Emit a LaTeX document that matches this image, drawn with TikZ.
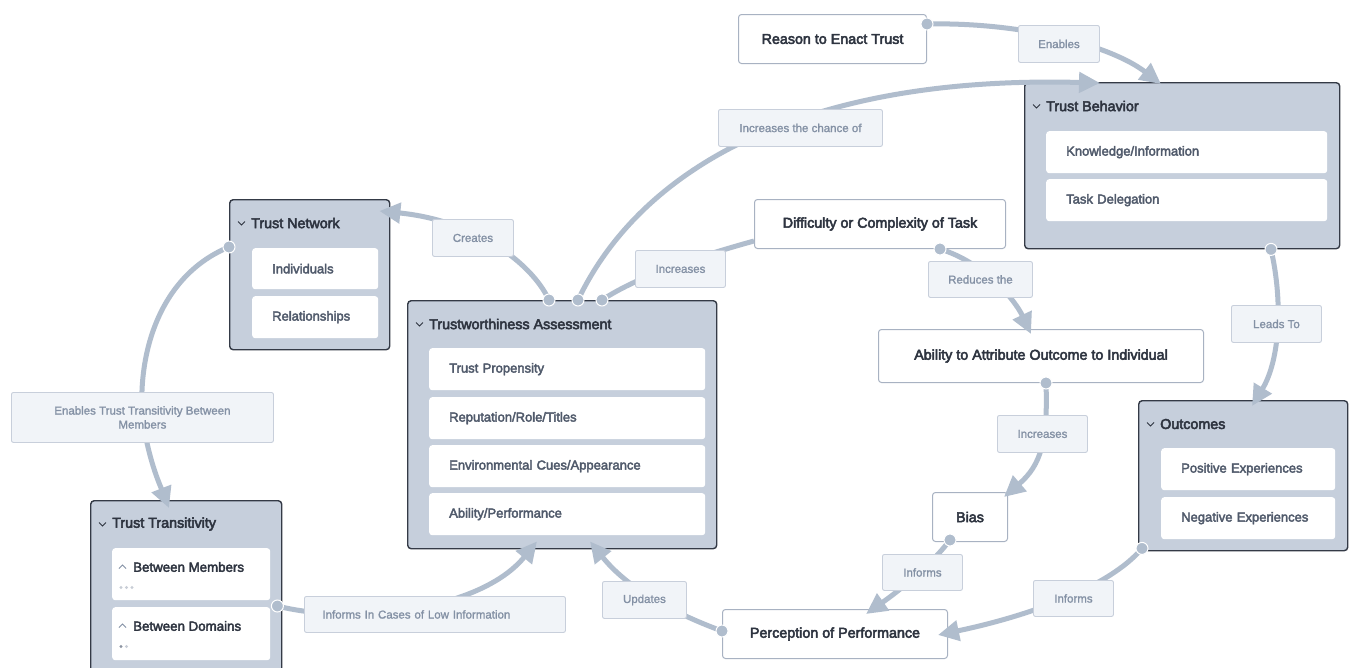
\documentclass[tikz,border=0pt]{standalone}
\usepackage{fontspec}
\setmainfont{Liberation Sans}
\newfontfamily\medfont[FakeBold=3.5]{Liberation Sans}
\newfontfamily\itemfont[FakeBold=3]{Liberation Sans}
\newfontfamily\lblfont[FakeBold=1.5]{Liberation Sans}
\usetikzlibrary{arrows.meta,calc}

\definecolor{linkc}{RGB}{176,189,205}
\definecolor{grpfill}{RGB}{198,207,220}
\definecolor{grpline}{RGB}{52,58,70}
\definecolor{entline}{RGB}{168,178,194}
\definecolor{lblfill}{RGB}{241,244,248}
\definecolor{lblline}{RGB}{200,207,219}
\definecolor{lbltext}{RGB}{132,145,165}
\definecolor{darktext}{RGB}{46,52,64}
\definecolor{itemtext}{RGB}{80,90,107}
\definecolor{dotlight}{RGB}{200,205,214}
\definecolor{dotdark}{RGB}{140,148,162}

\pgfdeclarelayer{bg}
\pgfdeclarelayer{links}
\pgfdeclarelayer{top}
\pgfsetlayers{bg,main,links,top}

\tikzset{
  entity/.style={draw=entline, line width=1pt, fill=white, rounded corners=3pt,
    inner sep=0pt, anchor=north west, text=darktext,
    font=\medfont\fontsize{14.3}{17}\selectfont},
  group/.style={draw=grpline, line width=1.4pt, fill=grpfill, rounded corners=3.5pt,
    inner sep=0pt, anchor=north west},
  grptitle/.style={anchor=west, inner sep=0pt, text=darktext,
    font=\medfont\fontsize{14.3}{17}\selectfont},
  item/.style={fill=white, rounded corners=3pt, anchor=north west, inner ysep=0pt,
    inner xsep=20pt, align=left, text=itemtext,
    font=\itemfont\fontsize{13}{15}\selectfont},
  subtitle/.style={anchor=west, inner sep=0pt, text=darktext,
    font=\itemfont\fontsize{13.3}{16}\selectfont},
  lbl/.style={draw=lblline, line width=0.9pt, fill=lblfill, rounded corners=2pt,
    inner sep=0pt, anchor=north west, align=center, text=lbltext,
    font=\lblfont\fontsize{11.5}{14}\selectfont},
  link/.style={draw=linkc, line width=5pt},
  arrowend/.style={-{Triangle[length=21pt,width=20pt]}},
  linkdot/.style={fill=linkc, draw=white, line width=1pt},
  chev/.style={draw=darktext, line width=1pt},
  caret/.style={draw=lbltext, line width=1pt},
}

% down-pointing chevron in front of a group title
\newcommand\grpchevron[1]{%
  \draw[chev] ($(#1.north west)+(9,22.5)$) -- ++(3.5,3.5) -- ++(3.5,-3.5);}

\begin{document}
\begin{tikzpicture}[x=1pt,y=-1pt]
\useasboundingbox (0,0) rectangle (1349,667);
\begin{pgfonlayer}{bg}
  \fill[white] (0,0) rectangle (1349,667);
\end{pgfonlayer}

% ---------- single concept boxes ----------
\node[entity, minimum width=188pt, minimum height=49pt] (reason) at (738,14) {Reason to Enact Trust};
\node[entity, minimum width=251pt, minimum height=49pt] (diff) at (754,199) {Difficulty or Complexity of Task};
\node[entity, minimum width=325pt, minimum height=53pt] (ability) at (878,329) {Ability to Attribute Outcome to Individual};
\node[entity, minimum width=75pt, minimum height=49pt] (bias) at (932,492) {Bias};
\node[entity, minimum width=225pt, minimum height=49pt] (perc) at (722,609) {Perception of Performance};

% ---------- Trust Behavior ----------
\node[group, minimum width=315pt, minimum height=166pt] (tb) at (1024,82) {};
\grpchevron{tb}
\node[grptitle] (tbt) at ($(tb.north west)+(22,24)$) {Trust Behavior};
\node[item, text width=241pt, minimum height=42pt] (tb1) at ($(tb.north west)+(22,49)$) {Knowledge/Information};
\node[item, text width=241pt, minimum height=42pt] (tb2) at ($(tb.north west)+(22,97)$) {Task Delegation};

% ---------- Trust Network ----------
\node[group, minimum width=160pt, minimum height=150pt] (tn) at (229,199) {};
\grpchevron{tn}
\node[grptitle] (tnt) at ($(tn.north west)+(22,24)$) {Trust Network};
\node[item, text width=86pt, minimum height=41pt] (tn1) at ($(tn.north west)+(23,49)$) {Individuals};
\node[item, text width=86pt, minimum height=42pt] (tn2) at ($(tn.north west)+(23,97)$) {Relationships};

% ---------- Trustworthiness Assessment ----------
\node[group, minimum width=309pt, minimum height=248pt] (ta) at (407,300) {};
\grpchevron{ta}
\node[grptitle] (tat) at ($(ta.north west)+(22,24)$) {Trustworthiness Assessment};
\node[item, text width=236pt, minimum height=42pt] (ta1) at ($(ta.north west)+(22,48)$) {Trust Propensity};
\node[item, text width=236pt, minimum height=42pt] (ta2) at ($(ta.north west)+(22,97)$) {Reputation/Role/Titles};
\node[item, text width=236pt, minimum height=42pt] (ta3) at ($(ta.north west)+(22,145)$) {Environmental Cues/Appearance};
\node[item, text width=236pt, minimum height=42pt] (ta4) at ($(ta.north west)+(22,193)$) {Ability/Performance};

% ---------- Outcomes ----------
\node[group, minimum width=209pt, minimum height=150pt] (oc) at (1138,400) {};
\grpchevron{oc}
\node[grptitle] (oct) at ($(oc.north west)+(22,24)$) {Outcomes};
\node[item, text width=134pt, minimum height=42pt] (oc1) at ($(oc.north west)+(23,48)$) {Positive Experiences};
\node[item, text width=134pt, minimum height=42pt] (oc2) at ($(oc.north west)+(23,97)$) {Negative Experiences};

% ---------- Trust Transitivity ----------
\node[group, minimum width=191pt, minimum height=190pt] (tt) at (90,500) {};
\grpchevron{tt}
\node[grptitle] (ttt) at ($(tt.north west)+(22,24)$) {Trust Transitivity};
\node[item, text width=118pt, minimum height=52pt] (ttm) at ($(tt.north west)+(22,48)$) {};
\node[item, text width=118pt, minimum height=53pt] (ttd) at ($(tt.north west)+(22,107)$) {};
\draw[caret] ($(ttm.north west)+(7,20.5)$) -- ++(3.5,-3.5) -- ++(3.5,3.5);
\node[subtitle] (ttmt) at ($(ttm.north west)+(21,19)$) {Between Members};
\fill[dotlight] ($(ttm.north west)+(9,39.5)$) circle (1.7pt)
                ($(ttm.north west)+(14.5,39.5)$) circle (1.7pt)
                ($(ttm.north west)+(20,39.5)$) circle (1.7pt);
\draw[caret] ($(ttd.north west)+(7,20.5)$) -- ++(3.5,-3.5) -- ++(3.5,3.5);
\node[subtitle] (ttdt) at ($(ttd.north west)+(21,19)$) {Between Domains};
\fill[dotdark] ($(ttd.north west)+(9,39.5)$) circle (1.7pt);
\fill[dotlight] ($(ttd.north west)+(14.5,39.5)$) circle (1.7pt);

% ---------- connector labels ----------
\begin{pgfonlayer}{top}
\node[lbl, minimum width=81pt, minimum height=37pt] (lenables) at (1018,25) {Enables};
\node[lbl, minimum width=164pt, minimum height=37pt] (lchance) at (718,109) {Increases the chance of};
\node[lbl, minimum width=81pt, minimum height=37pt] (lcreates) at (432,219) {Creates};
\node[lbl, minimum width=90pt, minimum height=37pt] (lincA) at (635,250) {Increases};
\node[lbl, minimum width=104pt, minimum height=36pt] (lreduces) at (928,261) {Reduces the};
\node[lbl, minimum width=90pt, minimum height=37pt] (lincB) at (997,415) {Increases};
\node[lbl, minimum width=80pt, minimum height=36pt] (linfA) at (882,554) {Informs};
\node[lbl, minimum width=90pt, minimum height=37pt] (lleads) at (1231,305) {Leads To};
\node[lbl, minimum width=80pt, minimum height=36pt] (linfB) at (1033,580) {Informs};
\node[lbl, minimum width=84pt, minimum height=37pt] (lupdates) at (602,581) {Updates};
\node[lbl, minimum height=36pt, text width=225pt, inner xsep=18pt, align=left] (llow) at (304,596) {Informs In Cases of Low Information};
\node[lbl, minimum width=262pt, minimum height=50pt] (ltrans) at (11,392) {Enables Trust Transitivity Between\\Members};
\end{pgfonlayer}

% ---------- connectors ----------
\begin{pgfonlayer}{links}
\coordinate (sA) at ($(reason.north east)+(0,10)$);
\coordinate (eA) at ($(tb.north west)+(137,2)$);
\coordinate (sB) at ($(ta.north west)+(171,0)$);
\coordinate (eB) at ($(tb.north west)+(76,1)$);
\coordinate (sC) at ($(ta.north west)+(142,0)$);
\coordinate (eC) at ($(tn.north east)+(-11,12)$);
\coordinate (sD) at ($(ta.north west)+(195,0)$);
\coordinate (eD) at ($(diff.south west)+(0,-8)$);
\coordinate (sE) at ($(diff.south west)+(186,0)$);
\coordinate (eE) at ($(ability.north west)+(153,5)$);
\coordinate (sF) at ($(ability.south west)+(168,0)$);
\coordinate (eF) at ($(bias.north east)+(-4,5)$);
\coordinate (sG) at ($(bias.south west)+(18,-2)$);
\coordinate (eG) at ($(perc.north west)+(144,5)$);
\coordinate (sH) at ($(tb.south west)+(247,0)$);
\coordinate (eH) at ($(oc.north west)+(114,6)$);
\coordinate (sI) at ($(oc.south west)+(4,-3)$);
\coordinate (eI) at ($(perc.east)+(-10,1)$);
\coordinate (sJ) at ($(perc.west)+(0,-3)$);
\coordinate (eJ) at ($(ta.south west)+(183,-8)$);
\coordinate (sK) at ($(tt.north east)+(-5,106)$);
\coordinate (eK) at ($(ta.south west)+(130,-8)$);
\coordinate (sL) at ($(tn.north west)+(0,48)$);
\coordinate (eL) at ($(tt.north west)+(79,8)$);

\draw[link, arrowend] (sA) .. controls +(94,-2) and +(-51,-39) .. (eA);
\draw[link, arrowend] (sB) .. controls +(62,-130) and +(-300,-8) .. (eB);
\draw[link, arrowend] (sC) .. controls +(-19,-40) and +(92,9) .. (eC);
\draw[link] (sD) .. controls +(38,-25) and +(-54,15) .. (eD);
\draw[link, arrowend] (sE) .. controls +(45,14) and +(-16,-34) .. (eE);
\draw[link, arrowend] (sF) .. controls +(2,58) and +(37,-32) .. (eF);
\draw[link, arrowend] (sG) .. controls +(-20,26) and +(34,-24) .. (eG);
\draw[link, arrowend] (sH) .. controls +(12,52) and +(28,-46) .. (eH);
\draw[link, arrowend] (sI) .. controls +(-32,38) and +(93,-19.5) .. (eI);
\draw[link, arrowend] (sJ) .. controls +(-42,-15.5) and +(40,50) .. (eJ);
\draw[link, arrowend] (sK) .. controls +(74,19) and +(-57,70) .. (eK);
\draw[link, arrowend] (sL) .. controls +(-68,28) and +(-5,-67) .. (ltrans.center)
                           .. controls +(6,43) and +(-9,-23) .. (eL);

\foreach \p in {sA,sB,sC,sD,sE,sF,sG,sH,sI,sJ,sK,sL}
  \fill[linkdot] (\p) circle (6pt);
\end{pgfonlayer}
\end{tikzpicture}
\end{document}
